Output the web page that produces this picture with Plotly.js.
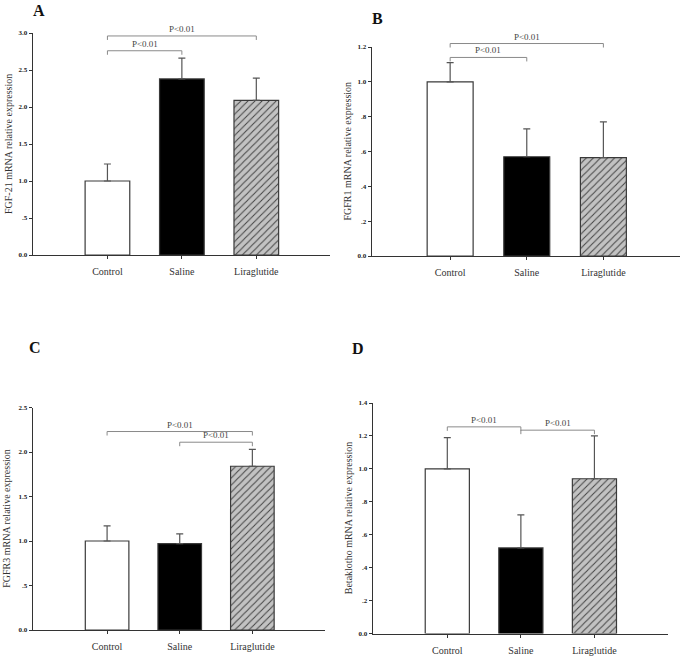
<!DOCTYPE html>
<html><head><meta charset="utf-8">
<script src="https://cdn.plot.ly/plotly-3.0.1.min.js"></script>
<style>html,body{margin:0;padding:0;background:#fff}#chart{width:686px;height:657px}</style>
</head><body><div id="chart"></div>
<script>
const categories = ['Control', 'Saline', 'Liraglutide'];
const catPos = [0, 1, 2];

const fgf21Values = [1.00, 2.38, 2.09];
const fgf21Errors = [0.23, 0.28, 0.30];
const fgfr1Values = [1.00, 0.57, 0.565];
const fgfr1Errors = [0.11, 0.16, 0.205];
const fgfr3Values = [1.00, 0.97, 1.84];
const fgfr3Errors = [0.17, 0.11, 0.19];
const klothoValues = [1.00, 0.52, 0.94];
const klothoErrors = [0.19, 0.20, 0.26];

const yTicksA = [0, 0.5, 1.0, 1.5, 2.0, 2.5, 3.0];
const yLabelsA = ['0.0', '.5', '1.0', '1.5', '2.0', '2.5', '3.0'];
const yTicksB = [0, 0.2, 0.4, 0.6, 0.8, 1.0, 1.2];
const yLabelsB = ['0.0', '.2', '.4', '.6', '.8', '1.0', '1.2'];
const yTicksC = [0, 0.5, 1.0, 1.5, 2.0, 2.5];
const yLabelsC = ['0.0', '.5', '1.0', '1.5', '2.0', '2.5'];
const yTicksD = [0, 0.2, 0.4, 0.6, 0.8, 1.0, 1.2, 1.4];
const yLabelsD = ['0.0', '.2', '.4', '.6', '.8', '1.0', '1.2', '1.4'];

// significance brackets: [from category, to category, height]
const sigA = [[0, 1, 2.76], [0, 2, 2.96]];
const sigB = [[0, 1, 1.14], [0, 2, 1.22]];
const sigC = [[0, 2, 2.23], [1, 2, 2.11]];
const sigD = [[0, 1, 1.255], [1, 2, 1.235]];
const sigLabel = 'P<0.01';

const W = 686, H = 657;
const panels = [
  {id: '', letter: 'A', values: fgf21Values, errors: fgf21Errors, ticks: yTicksA, labels: yLabelsA, sig: sigA,
   title: 'FGF-21 mRNA relative expression', px: [33, 330], py: [33, 255], xr: [-1.0, 2.99], yr: [0, 3.0],
   letterPos: [39, 10], titleX: 8},
  {id: '2', letter: 'B', values: fgfr1Values, errors: fgfr1Errors, ticks: yTicksB, labels: yLabelsB, sig: sigB,
   title: 'FGFR1 mRNA relative expression', px: [372, 680], py: [47, 256], xr: [-1.02, 3.0], yr: [0, 1.2],
   letterPos: [377, 18], titleX: 347},
  {id: '3', letter: 'C', values: fgfr3Values, errors: fgfr3Errors, ticks: yTicksC, labels: yLabelsC, sig: sigC,
   title: 'FGFR3 mRNA relative expression', px: [33, 325], py: [407.5, 630], xr: [-1.02, 3.0], yr: [0, 2.5],
   letterPos: [35, 347], titleX: 7},
  {id: '4', letter: 'D', values: klothoValues, errors: klothoErrors, ticks: yTicksD, labels: yLabelsD, sig: sigD,
   title: 'Betaklotho mRNA relative expression', px: [373, 668], py: [403, 633.5], xr: [-1.01, 3.0], yr: [0, 1.4],
   letterPos: [358, 348], titleX: 348}
];

const serif = '"Liberation Serif", "Times New Roman", Times, serif';
const data = [];
const layout = {
  width: W, height: H, margin: {l: 0, r: 0, t: 0, b: 0},
  paper_bgcolor: '#fff', plot_bgcolor: '#fff', showlegend: false,
  font: {family: serif},
  shapes: [], annotations: []
};

panels.forEach(p => {
  const xd = [p.px[0] / W, p.px[1] / W];
  const yd = [1 - p.py[1] / H, 1 - p.py[0] / H];
  data.push({
    type: 'bar', x: catPos, y: p.values, width: 0.6,
    xaxis: 'x' + p.id, yaxis: 'y' + p.id,
    marker: {
      color: ['#ffffff', '#000000', '#c2c2c2'],
      line: {color: '#3a3a3a', width: 1.2},
      pattern: {shape: ['', '', '/'], fillmode: 'overlay',
        fgcolor: '#2a2a2a', fgopacity: 1, size: 5, solidity: 0.2}
    },
    error_y: {type: 'data', symmetric: false, array: p.errors, arrayminus: [0, 0, 0],
      color: '#555', thickness: 1.2, width: 3.5},
    hoverinfo: 'skip'
  });
  layout['xaxis' + p.id] = {
    domain: xd, range: p.xr, anchor: 'y' + p.id,
    tickvals: catPos, ticktext: categories,
    showline: true, linecolor: '#333', linewidth: 1.3,
    ticks: 'outside', ticklen: 3, tickwidth: 1, tickcolor: '#333',
    showgrid: false, zeroline: false, ticklabelstandoff: 4,
    tickfont: {family: serif, size: 10, color: '#333'}
  };
  layout['yaxis' + p.id] = {
    domain: yd, range: p.yr, anchor: 'x' + p.id,
    tickvals: p.ticks, ticktext: p.labels,
    showline: true, linecolor: '#333', linewidth: 1.3,
    ticks: 'outside', ticklen: 3, tickwidth: 1, tickcolor: '#333',
    showgrid: false, zeroline: false,
    tickfont: {family: serif, size: 7, color: '#222', weight: 'bold'}
  };
  const toPX = x => xd[0] + (x - p.xr[0]) / (p.xr[1] - p.xr[0]) * (xd[1] - xd[0]);
  const toPY = y => yd[0] + (y - p.yr[0]) / (p.yr[1] - p.yr[0]) * (yd[1] - yd[0]);
  const drop = 4 / H;
  p.sig.forEach(s => {
    const x0 = toPX(catPos[s[0]]), x1 = toPX(catPos[s[1]]), y = toPY(s[2]);
    layout.shapes.push({
      type: 'path', xref: 'paper', yref: 'paper',
      path: `M${x0},${y - drop} L${x0},${y} L${x1},${y} L${x1},${y - drop}`,
      line: {color: '#8a8a8a', width: 1}
    });
    layout.annotations.push({
      xref: 'paper', yref: 'paper', x: (x0 + x1) / 2, y: y, yshift: 0,
      xanchor: 'center', yanchor: 'bottom', showarrow: false, text: sigLabel,
      font: {family: serif, size: 9, color: '#444'}
    });
  });
  layout.annotations.push({
    xref: 'paper', yref: 'paper', x: p.titleX / W, y: 1 - (p.py[0] + p.py[1]) / 2 / H,
    xanchor: 'center', yanchor: 'middle', textangle: -90, showarrow: false, text: p.title,
    font: {family: serif, size: 10, color: '#333'}
  });
  layout.annotations.push({
    xref: 'paper', yref: 'paper', x: p.letterPos[0] / W, y: 1 - p.letterPos[1] / H,
    xanchor: 'center', yanchor: 'middle', showarrow: false, text: p.letter,
    font: {family: serif, size: 16, color: '#111', weight: 'bold'}
  });
});

Plotly.newPlot('chart', data, layout, {displayModeBar: false, staticPlot: true});
</script>
</body></html>
